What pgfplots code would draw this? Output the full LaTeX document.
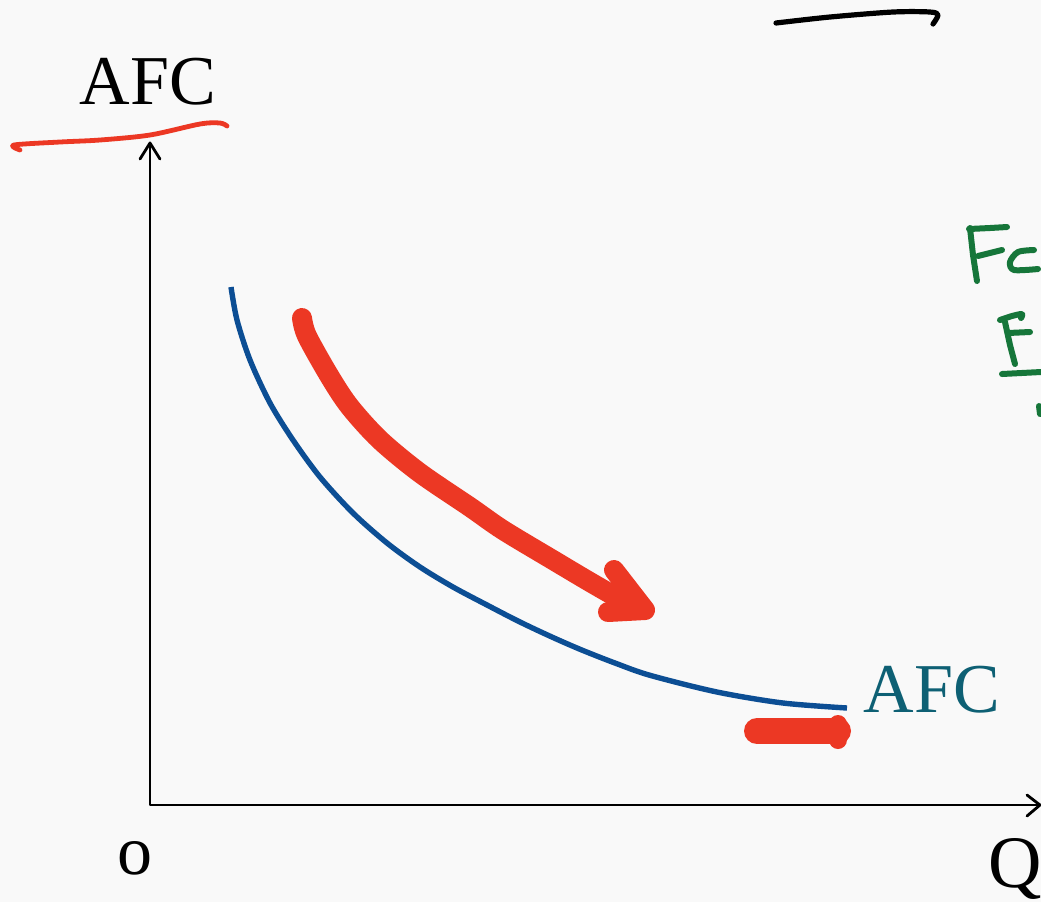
\documentclass[border=0pt]{standalone}
\usepackage{pgfplots}
\pgfplotsset{compat=1.18}
\usepackage{fontspec}
\setmainfont{Liberation Serif}
\definecolor{bg}{RGB}{249,249,249}
\definecolor{curveblue}{RGB}{12,78,148}
\definecolor{hlred}{RGB}{236,56,36}
\definecolor{tealtxt}{RGB}{14,96,116}
\definecolor{inkgreen}{RGB}{22,118,58}
\begin{document}
\begin{tikzpicture}
\useasboundingbox (0,0) rectangle (520.5pt,451pt);
\fill[bg] (0,0) rectangle (520.5pt,451pt);
\clip (0,0) rectangle (520.5pt,451pt);
\begin{axis}[
  at={(0,0)}, anchor=south west,
  scale only axis, width=520.5pt, height=451pt,
  xmin=0, xmax=1041, ymin=0, ymax=902, y dir=reverse,
  hide axis, clip=false,
  every axis plot/.append style={line cap=round, line join=round},
]
% axes
\addplot[black, line width=1.4pt, mark=none] coordinates {(150,143) (150,805) (1040,805)};
\addplot[black, line width=1.4pt, mark=none] coordinates {(140,159) (150,143) (160,159)};
\addplot[black, line width=1.4pt, mark=none] coordinates {(1027,795) (1040,805) (1027,816)};
% AFC curve
\addplot[curveblue, line width=2.7pt, line cap=butt, mark=none, smooth] coordinates {
 (231,287) (237,320) (250,360) (270,403) (293,440) (320,477) (353,513) (387,543)
 (420,567) (453,587) (487,605) (520,622) (553,637.5) (583,650.5) (616,663.4) (650,675.3)
 (717,692) (783,703) (847,708)};
% red arrow
\addplot[hlred, line width=10pt, mark=none, smooth] coordinates {
 (302,318) (307,336) (330,377) (350,407) (380,440) (420,473) (470,507) (503,530)
 (553,560) (590,582) (630,605)};
\addplot[hlred, line width=10pt, mark=none] coordinates {(614,570) (645,610) (608,612)};
\addplot[hlred, fill=hlred, line width=4pt, mark=none] coordinates {(616,578) (645,610) (612,610) (630,598) (616,578)};
% red blob
\addplot[hlred, line width=13pt, mark=none] coordinates {(757,731) (838,731)};
\addplot[hlred, line width=9pt, mark=none] coordinates {(838,724) (838,740)};
% red underline of AFC
\addplot[hlred, line width=2.4pt, mark=none, smooth] coordinates {
 (20,150) (14,145) (60,142) (100,140) (150,135) (200,124) (220,123) (227,126)};
% black stroke top
\addplot[black, line width=2.6pt, mark=none, smooth] coordinates {
 (776,23) (830,17) (893,12) (930,12) (938,15) (933,24)};
% green handwriting
\addplot[inkgreen, line width=3pt, mark=none] coordinates {(970,228) (973,255) (977,281)};
\addplot[inkgreen, line width=3pt, mark=none] coordinates {(969,229) (990,228) (1007,227)};
\addplot[inkgreen, line width=3pt, mark=none] coordinates {(978,256) (1002,250)};
\addplot[inkgreen, line width=3pt, mark=none, smooth] coordinates {(1034,250) (1018,252) (1010,262) (1014,270) (1038,269)};
\addplot[inkgreen, line width=3pt, mark=none, smooth] coordinates {(1000,320) (1012,316) (1022,314) (1021,318)};
\addplot[inkgreen, line width=3pt, mark=none] coordinates {(1005,322) (1010,345) (1015,364)};
\addplot[inkgreen, line width=3pt, mark=none] coordinates {(1008,333) (1030,332)};
\addplot[inkgreen, line width=3pt, mark=none] coordinates {(1002,374) (1041,372)};
\addplot[inkgreen, line width=3pt, mark=none] coordinates {(1039,406) (1040,414)};
% labels
\node[font=\fontsize{35}{40}\selectfont, black, inner sep=0pt] at (axis cs:148,82) {AFC};
\node[font=\fontsize{35}{40}\selectfont, tealtxt, inner sep=0pt] at (axis cs:932,690) {AFC};
\node[font=\fontsize{35}{40}\selectfont, black, inner sep=0pt] at (axis cs:135,858) {o};
\node[font=\fontsize{37}{42}\selectfont, black, inner sep=0pt, anchor=base west] at (axis cs:988,887) {Q};
\end{axis}
\end{tikzpicture}
\end{document}
